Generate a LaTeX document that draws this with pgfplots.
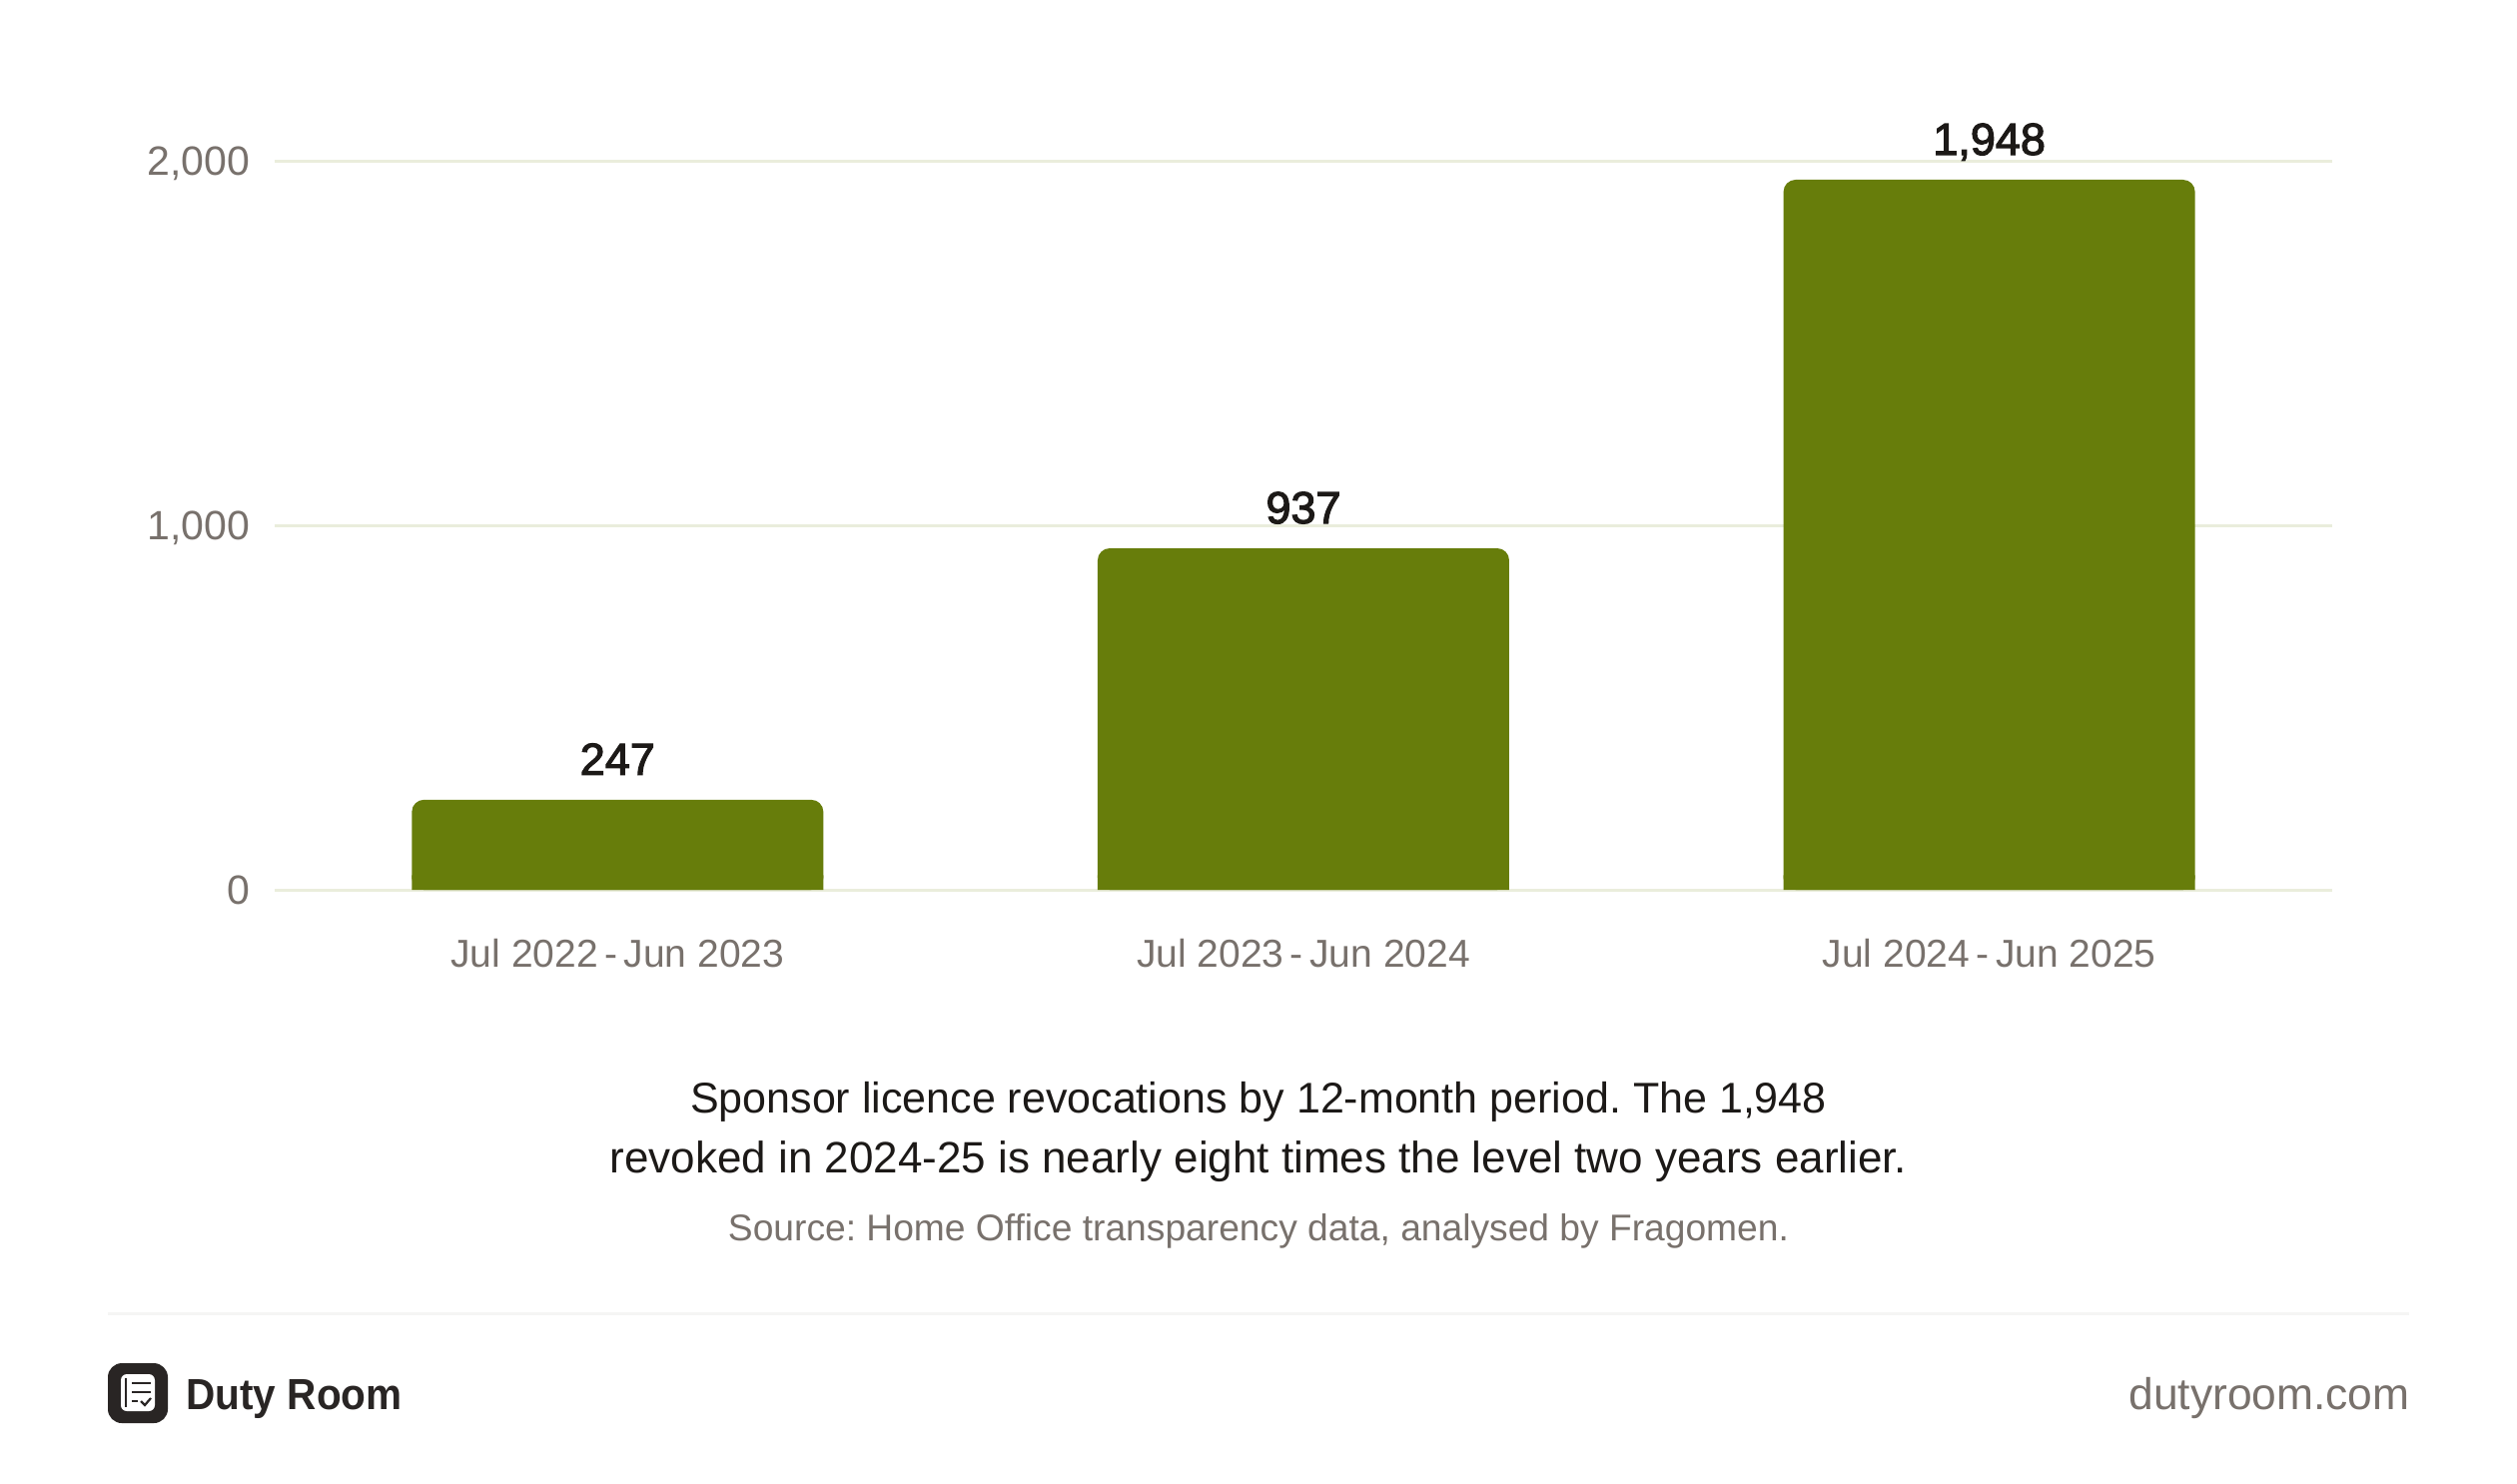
\documentclass[border=0pt]{standalone}
\usepackage{fontspec}
\usepackage{pgfplots}
\pgfplotsset{compat=1.18}
\setmainfont{Liberation Sans}
\newfontfamily\medfont[FakeBold=2.6]{Liberation Sans}
\newfontfamily\logofont[FakeStretch=0.93]{Liberation Sans Bold}
\definecolor{barcol}{RGB}{103,125,11}
\definecolor{gridcol}{RGB}{234,237,220}
\definecolor{mutedcol}{RGB}{120,113,108}
\definecolor{inkcol}{RGB}{28,25,23}
\definecolor{logocol}{RGB}{41,37,36}
\definecolor{rulecol}{RGB}{245,245,244}
\frenchspacing
\begin{document}
% 1 px of the reference = 0.5pt, y runs down in the picture
\begin{tikzpicture}[x=0.5pt,y=-0.5pt]
\path[use as bounding box] (0,0) rectangle (2520,1485);
\begin{axis}[
    at={(137.5pt,-445.5pt)}, anchor=south west,
    scale only axis, width=1030pt, height=365pt,
    xmin=-0.5, xmax=2.5, ymin=0, ymax=2000,
    axis line style={draw=none},
    major tick style={draw=none},
    ybar, bar shift=0pt, bar width=206pt,
    xtick=data,
    xticklabels={Jul 2022\,-\,Jun 2023,Jul 2023\,-\,Jun 2024,Jul 2024\,-\,Jun 2025},
    ytick={0,1000,2000},
    ymajorgrids,
    grid style={gridcol, line width=1.5pt},
    /pgf/number format/assume math mode=true,
    /pgf/number format/1000 sep={,},
    tick label style={text=mutedcol},
    yticklabel style={font=\fontsize{20.5}{24}\selectfont, xshift=-9pt, text depth=0pt, text height=15pt, yshift=0.3pt},
    xticklabel style={font=\fontsize{19.5}{23}\selectfont, yshift=-17pt},
    nodes near coords style={font=\medfont\fontsize{22.5}{26}\selectfont, text=inkcol, anchor=base, yshift=12.5pt, inner sep=0pt},
]
\addplot[fill=barcol, draw=none, rounded corners=6pt, nodes near coords] coordinates {
    (0,247)
    (1,937)
    (2,1948)
};
% square feet so that only the top corners stay round
\addplot[fill=barcol, draw=none] coordinates {
    (0,40)
    (1,40)
    (2,40)
};
\end{axis}
\node[font=\fontsize{21.5}{25}\selectfont, text=inkcol, anchor=base] at (1260,1114) {Sponsor licence revocations by 12-month period. The 1,948};
\node[font=\fontsize{22}{26}\selectfont, text=inkcol, anchor=base] at (1260,1174) {revoked in 2024-25 is nearly eight times the level two years earlier.};
\node[font=\fontsize{18.6}{22}\selectfont, text=mutedcol, anchor=base] at (1260,1242) {Source: Home Office transparency data, analysed by Fragomen.};
\draw[rulecol, line width=1.5pt] (108,1315) -- (2412,1315);
% logo
\fill[logocol, rounded corners=7pt] (108,1365) rectangle (168,1425);
\fill[white, rounded corners=3pt] (121,1376) rectangle (155,1413);
\draw[logocol, line width=1.2pt] (126,1380) -- (126,1409);
\draw[logocol, line width=1pt] (132,1385) -- (151,1385) (132,1394) -- (151,1394) (132,1403) -- (138,1403);
\draw[logocol, line width=1.1pt] (141,1403) -- (145,1407) -- (151,1400);
\node[font=\logofont\fontsize{21.8}{26}\selectfont, text=logocol, anchor=base west, inner sep=0pt] at (186,1411) {Duty Room};
\node[font=\fontsize{22.2}{26}\selectfont, text=mutedcol, anchor=base east, inner sep=0pt] at (2413,1411) {dutyroom.com};
\end{tikzpicture}
\end{document}
